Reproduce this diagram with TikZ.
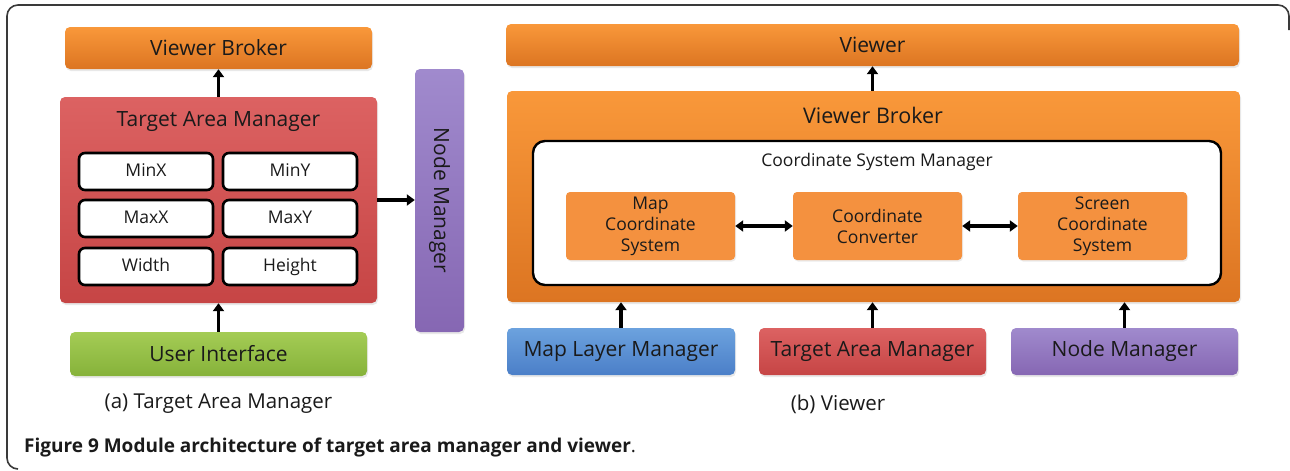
\documentclass[tikz,border=0pt]{standalone}
\usepackage{fontspec}
\setmainfont{Open Sans}
\usetikzlibrary{arrows.meta,shadows}

\definecolor{orTop}{HTML}{F9983A}
\definecolor{orBot}{HTML}{DC7522}
\definecolor{orFlat}{HTML}{F4913F}
\definecolor{rdTop}{HTML}{DC6262}
\definecolor{rdBot}{HTML}{C64545}
\definecolor{grTop}{HTML}{A4CC55}
\definecolor{grBot}{HTML}{86B23A}
\definecolor{puTop}{HTML}{A08ACD}
\definecolor{puBot}{HTML}{8667B3}
\definecolor{blTop}{HTML}{6CA2DE}
\definecolor{blBot}{HTML}{4B7FC8}
\definecolor{ink}{HTML}{1A1A1A}
\definecolor{frame}{HTML}{3A3A3A}

\tikzset{
  fs/.style={font=\fontsize{#1}{24}\selectfont},
  box/.style={rectangle, rounded corners=5pt, inner sep=0pt, text=ink,
    align=center, fs=21,
    drop shadow={opacity=0.18, shadow xshift=1pt, shadow yshift=-2pt}},
  orangebox/.style={box, top color=orTop, bottom color=orBot},
  redbox/.style={box, top color=rdTop, bottom color=rdBot},
  greenbox/.style={box, top color=grTop, bottom color=grBot},
  purplebox/.style={box, top color=puTop, bottom color=puBot},
  bluebox/.style={box, top color=blTop, bottom color=blBot},
  cell/.style={rectangle, rounded corners=6pt, draw=black, line width=2.6pt,
    fill=white, inner sep=0pt, minimum width=134pt, minimum height=37pt,
    text=ink, fs=17.5, text height=13pt, text depth=4pt},
  coordbox/.style={rectangle, rounded corners=4pt, fill=orFlat, inner sep=0pt,
    minimum width=169pt, minimum height=68pt, text=ink, align=center,
    font=\fontsize{17.5}{21}\selectfont,
    drop shadow={opacity=0.15, shadow xshift=1pt, shadow yshift=-1.5pt}},
  title/.style={text=ink, inner sep=0pt},
  tip/.style={Triangle[length=8pt,width=11pt]},
  link/.style={line width=3.6pt, -{Triangle[length=8pt,width=11pt]}},
  biglink/.style={line width=3.6pt, {Triangle[length=8pt,width=11pt]}-{Triangle[length=8pt,width=11pt]}},
}

\begin{document}
\begin{tikzpicture}[x=1pt, y=-1pt]
\useasboundingbox (0,0) rectangle (1290,471);

% outer frame, open at the right and bottom
\draw[frame, line width=1.6pt, rounded corners=11pt]
  (18,469) -- (7,469) -- (7,5) -- (1289,5) -- (1289,30);

% ---------- (a) Target Area Manager ----------
\node[orangebox, minimum width=307pt, minimum height=42pt] (lvb) at (218.5,48) {Viewer Broker};
\node[redbox, minimum width=317pt, minimum height=206pt] (ltam) at (218.5,200) {};
\node[title, fs=21] (ltamT) at (218.5,121) {Target Area Manager};

\node[cell] (minx)   at (146,171.5) {MinX};
\node[cell] (miny)   at (290,171.5) {MinY};
\node[cell] (maxx)   at (146,218.5) {MaxX};
\node[cell] (maxy)   at (290,218.5) {MaxY};
\node[cell] (width)  at (146,266.5) {Width};
\node[cell] (height) at (290,266.5) {Height};

\node[purplebox, minimum width=49pt, minimum height=263pt] (lnm) at (439.5,200.5) {};
\node[title, fs=21, rotate=-90] (lnmT) at (lnm.center) {Node Manager};

\node[greenbox, minimum width=297pt, minimum height=44pt] (lui) at (218.5,354) {User Interface};
\node[title, fs=20.5] (capa) at (218.5,404) {(a) Target Area Manager};

\draw[link] (ltam.north) -- (lvb.south);
\draw[link] (lui.north) -- (ltam.south);
\draw[link] (ltam.east |- 0,200) -- (lnm.west |- 0,200);

% ---------- (b) Viewer ----------
\node[orangebox, minimum width=733pt, minimum height=42pt] (viewer) at (872.5,45) {Viewer};
\node[orangebox, minimum width=733pt, minimum height=211pt] (rvb) at (873.5,196.5) {};
\node[title, fs=21.5] (rvbT) at (873,115) {Viewer Broker};

\node[rectangle, rounded corners=12pt, draw=black, line width=2.4pt, fill=white,
  minimum width=688pt, minimum height=144pt, inner sep=0pt] (csm) at (877,213) {};
\node[title, fs=17.5] (csmT) at (877,162) {Coordinate System Manager};

\node[coordbox] (mcs) at (650.5,226) {Map\\Coordinate\\System};
\node[coordbox] (cc)  at (877.5,226) {Coordinate\\Converter};
\node[coordbox] (scs) at (1102.5,226) {Screen\\Coordinate\\System};

\draw[biglink] (mcs.east) -- (cc.west);
\draw[biglink] (cc.east) -- (scs.west);

\node[bluebox, minimum width=228pt, minimum height=47pt] (mlm) at (621,351.5) {Map Layer Manager};
\node[redbox, minimum width=227pt, minimum height=47pt] (rtam) at (872.5,351.5) {Target Area Manager};
\node[purplebox, minimum width=227pt, minimum height=47pt] (rnm) at (1124.5,351.5) {Node Manager};

\draw[link] (viewer.south |- rvb.north) -- (viewer.south);
\draw[link] (mlm.north) -- (mlm.north |- rvb.south);
\draw[link] (rtam.north) -- (rtam.north |- rvb.south);
\draw[link] (rnm.north) -- (rnm.north |- rvb.south);

\node[title, fs=20.5] (capb) at (838,404) {(b) Viewer};

% figure caption
\node[title, anchor=west, fs=19] (caption) at (24,448)
  {\textbf{Figure 9 Module architecture of target area manager and viewer}.};
\end{tikzpicture}
\end{document}
